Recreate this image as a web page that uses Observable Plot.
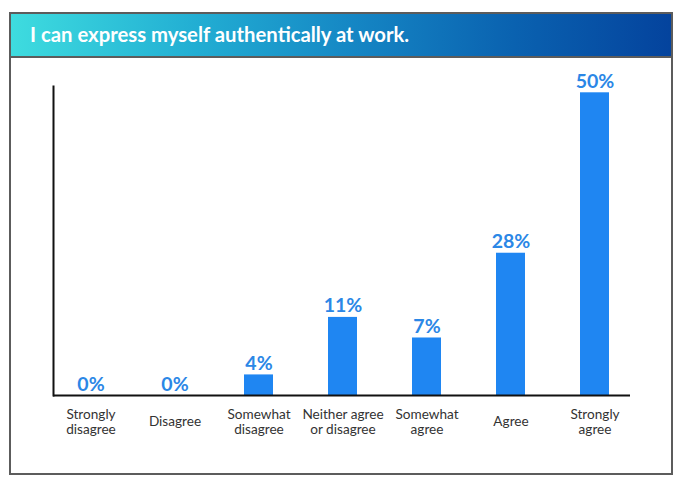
<!DOCTYPE html>
<html>
<head>
<meta charset="utf-8">
<script src="https://cdn.jsdelivr.net/npm/d3@7"></script>
<script src="https://cdn.jsdelivr.net/npm/@observablehq/plot@0.6"></script>
<style>
  html, body { margin: 0; padding: 0; background: #fff; width: 685px; height: 487px; overflow: hidden; }
  #card {
    position: absolute; left: 9px; top: 12px; width: 664px; height: 463px;
    box-sizing: border-box; border: 2px solid #5c5c5c; background: #fff;
  }
  #title {
    height: 42px; border-bottom: 2px solid #5c5c5c;
    background: linear-gradient(90deg, #3edcdf 0%, #22aed3 28%, #1586c4 52%, #0a62b0 76%, #04439d 100%);
    color: #fff; font-family: Lato, "Open Sans", sans-serif; font-weight: 700; font-size: 20.3px;
    line-height: 41px; padding-left: 19px; box-sizing: content-box;
  }
  #chart svg { display: block; }
</style>
</head>
<body>
<div id="card">
  <div id="title">I can express myself authentically at work.</div>
  <div id="chart"></div>
</div>
<script>
const categories = ["Strongly disagree", "Disagree", "Somewhat disagree", "Neither agree or disagree", "Somewhat agree", "Agree", "Strongly agree"];
const tickLabels = ["Strongly\ndisagree", "Disagree", "Somewhat\ndisagree", "Neither agree\nor disagree", "Somewhat\nagree", "Agree", "Strongly\nagree"];
const percentages = [0, 0, 4, 11, 7, 28, 50];
// bar lengths as drawn in the picture (in % units, the 50% bar as reference)
const barHeights = [0, 0, 3.4, 12.9, 9.5, 23.5, 50];

const data = categories.map((c, i) => ({
  cat: c, tick: tickLabels[i], pct: percentages[i], h: barHeights[i]
}));

const W = 660, H = 415;
const chart = Plot.plot({
  width: W, height: H,
  marginTop: 28, marginBottom: 78, marginLeft: 42, marginRight: 41,
  style: { fontFamily: "Lato, 'Open Sans', sans-serif", background: "transparent" },
  x: { domain: categories, range: [36.95, 625.55], paddingInner: 0.649, paddingOuter: 0.3245, axis: null },
  y: { domain: [0, 50], range: [337, 34.3], axis: null },
  marks: [
    Plot.barY(data, { x: "cat", y: "h", fill: "#1f86f2" }),
    Plot.text(data, {
      x: "cat", y: "h", text: d => d.pct + "%", lineAnchor: "bottom", dy: -5,
      fill: "#2b87e6", fontSize: 19.5, fontWeight: 700
    }),
    Plot.text(data, {
      x: "cat", frameAnchor: "bottom", text: "tick", dy: 26, lineAnchor: "middle",
      lineHeight: 1.1, fill: "#333", fontSize: 13.6
    }),
    Plot.ruleY([0], { stroke: "#111", strokeWidth: 2 }),
    Plot.frame({ anchor: "left", stroke: "#111", strokeWidth: 2 })
  ]
});
document.getElementById("chart").appendChild(chart);
</script>
</body>
</html>
